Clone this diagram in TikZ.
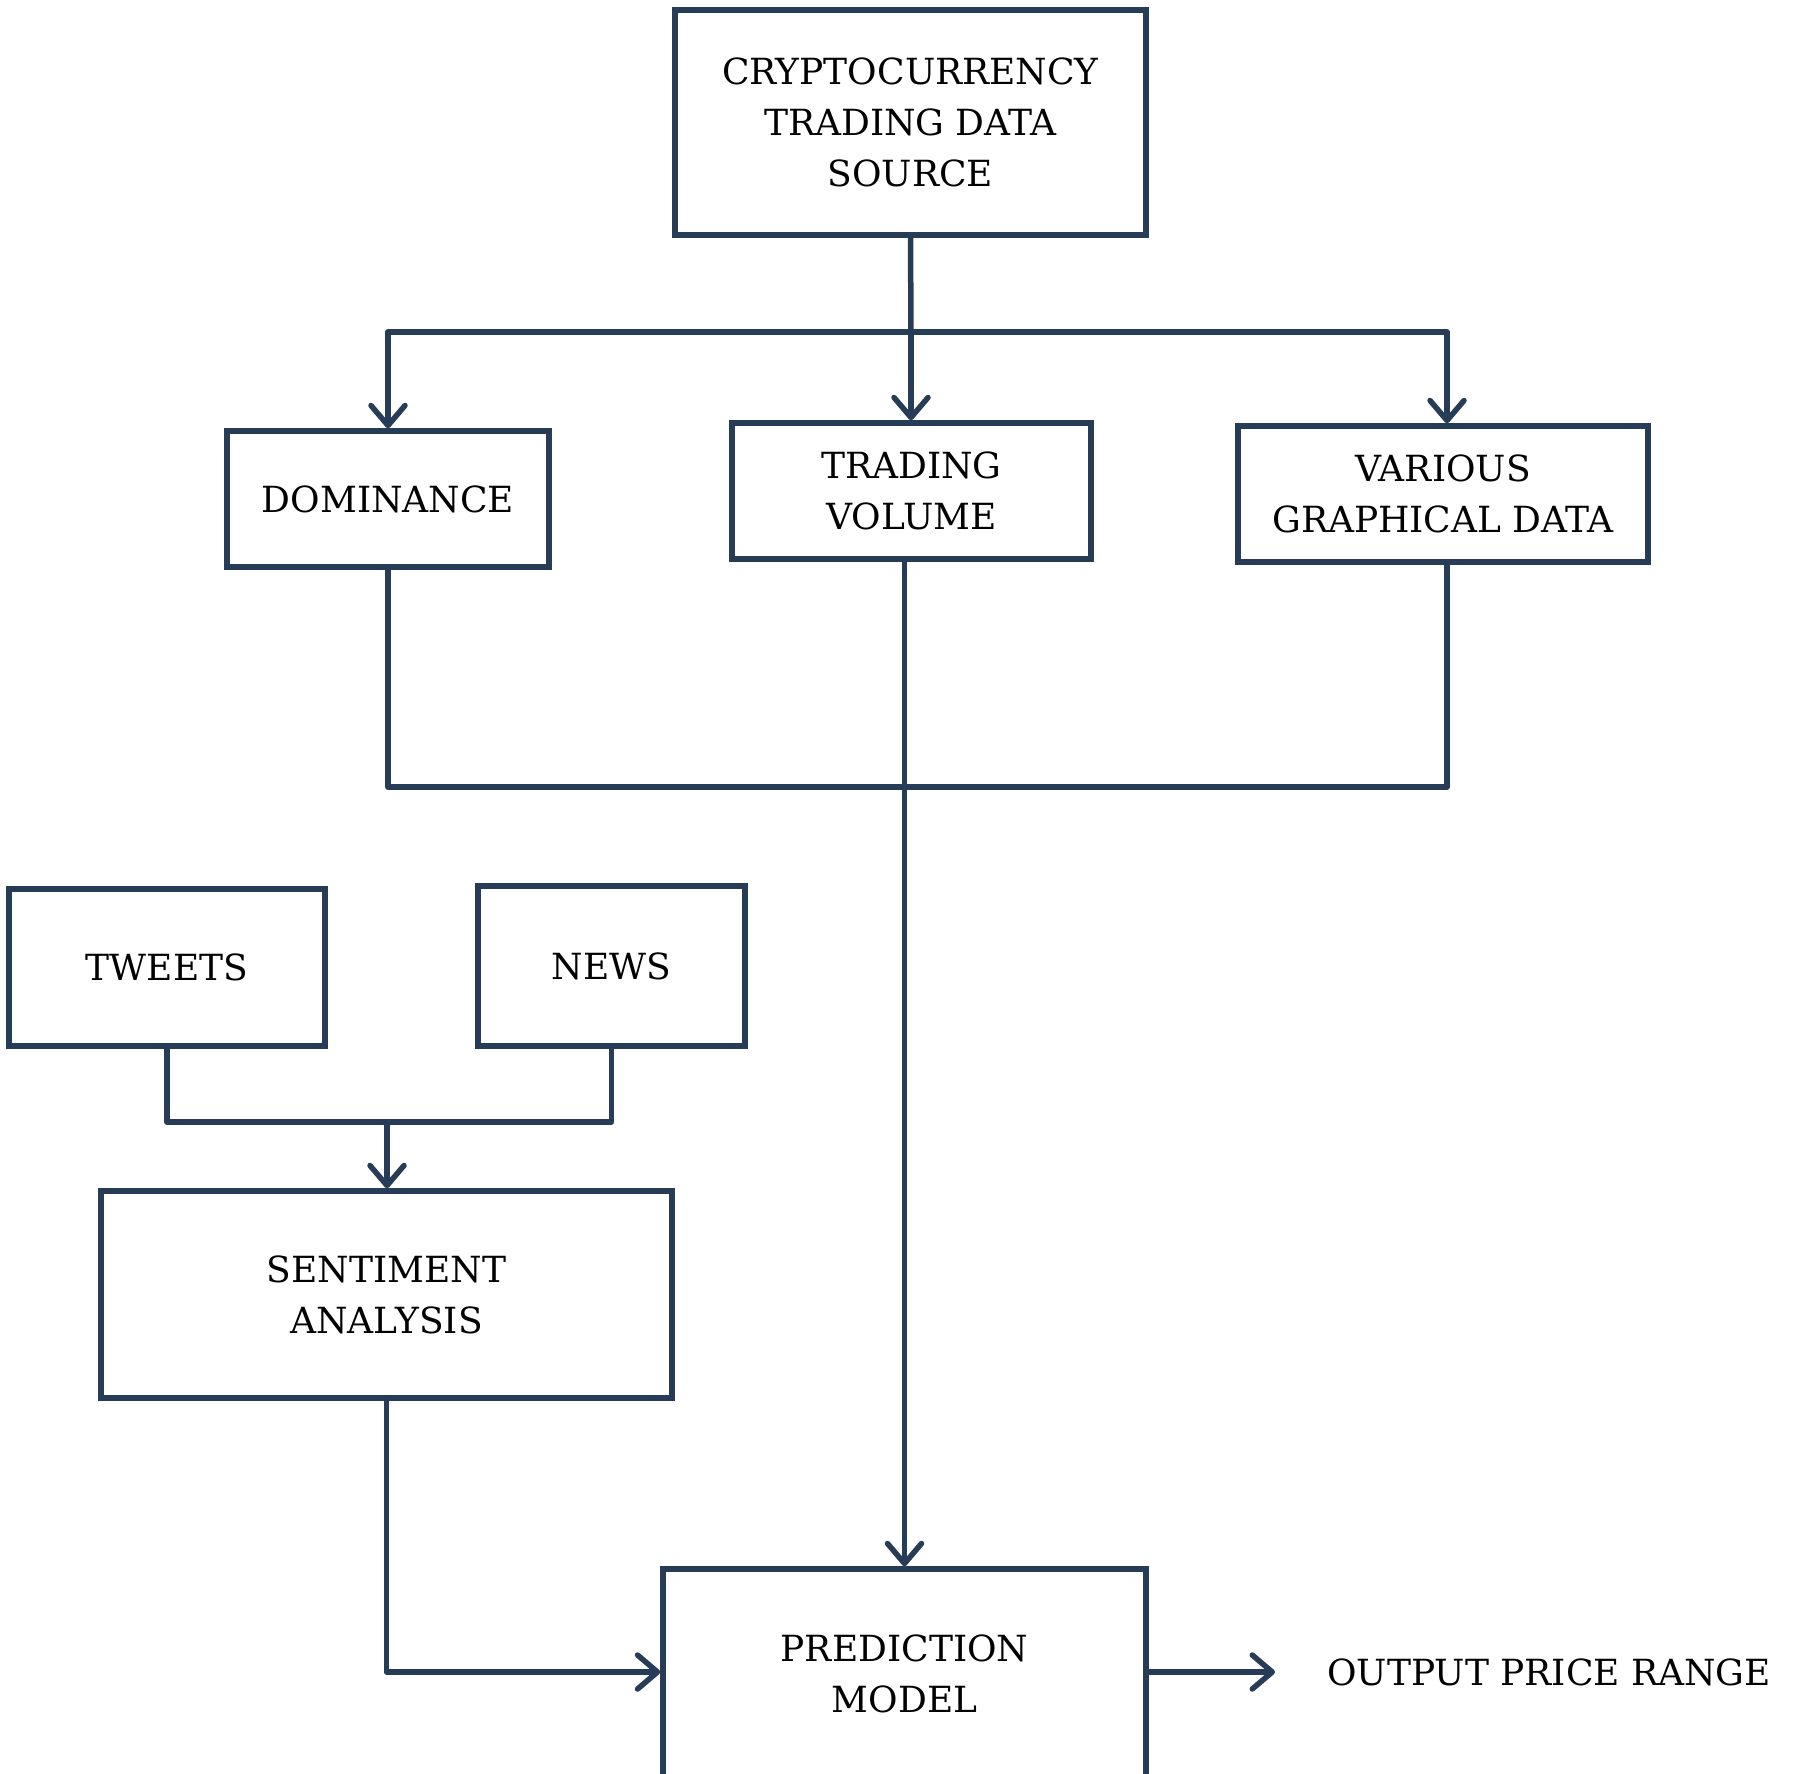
\documentclass[tikz,border=0pt]{standalone}
\usepackage{fontspec}
\setmainfont{DejaVu Serif}
\usetikzlibrary{arrows.meta}
\definecolor{navy}{HTML}{263C57}
\tikzset{
  box/.style={draw=navy, line width=5.5pt, rectangle, align=center, inner sep=0pt,
    font=\fontsize{36}{51}\selectfont, text=black},
  conn/.style={draw=navy, line width=5.5pt, line join=round},
  arr/.style={conn, -{Straight Barb[length=20pt, width=34pt, line cap=round, line join=round]}, line cap=butt},
}
\begin{document}
\begin{tikzpicture}[x=1pt, y=-1pt]
\useasboundingbox (0,0) rectangle (1801,1774);
\node[box, minimum width=471pt, minimum height=225pt] (src) at (910.5,122.5) {CRYPTOCURRENCY\\TRADING DATA\\SOURCE};
\node[box, minimum width=322pt, minimum height=136pt] (dom) at (388,499) {DOMINANCE};
\node[box, minimum width=359pt, minimum height=136pt] (vol) at (911.5,491) {TRADING\\VOLUME};
\node[box, minimum width=410pt, minimum height=136pt] (var) at (1443,494) {VARIOUS\\GRAPHICAL DATA};
\node[box, minimum width=316pt, minimum height=157pt] (tw) at (167,967.5) {TWEETS};
\node[box, minimum width=267pt, minimum height=160pt] (news) at (611.5,966) {NEWS};
\node[box, minimum width=571pt, minimum height=207pt] (sent) at (386.5,1294.5) {SENTIMENT\\ANALYSIS};
\node[box, minimum width=483pt, minimum height=209pt] (pred) at (904.5,1673.5) {PREDICTION\\MODEL};
\node[font=\fontsize{36}{51}\selectfont, inner sep=0pt, anchor=west] (out) at (1327,1672) {OUTPUT PRICE RANGE};

\coordinate (jt) at (911,332);
\coordinate (jl) at (388,332);
\coordinate (jr) at (1447,332);
\draw[conn] (src.south) -- (jt);
\draw[arr] (jt) -- (jl) -- (jl |- dom.north);
\draw[arr] (jt) -- (jr) -- (jr |- var.north);
\draw[arr] (jt) -- (jt |- vol.north);

\coordinate (ml) at (388,787);
\coordinate (mr) at (1447,787);
\draw[conn] (dom.south) -- (ml) -- (mr) -- (mr |- var.south);
\draw[arr] (pred.north |- vol.south) -- (pred.north);

\coordinate (tl) at (167,1122);
\coordinate (tr) at (611.5,1122);
\coordinate (tm) at (387,1122);
\draw[conn] (tw.south) -- (tl) -- (tr) -- (news.south);
\draw[arr] (tm) -- (tm |- sent.north);

\coordinate (sb) at (386.5,1672);
\draw[arr] (sent.south) -- (sb) -- (sb -| pred.west);
\draw[arr] (pred.east |- sb) -- ([xshift=-52pt]out.west);
\end{tikzpicture}
\end{document}
